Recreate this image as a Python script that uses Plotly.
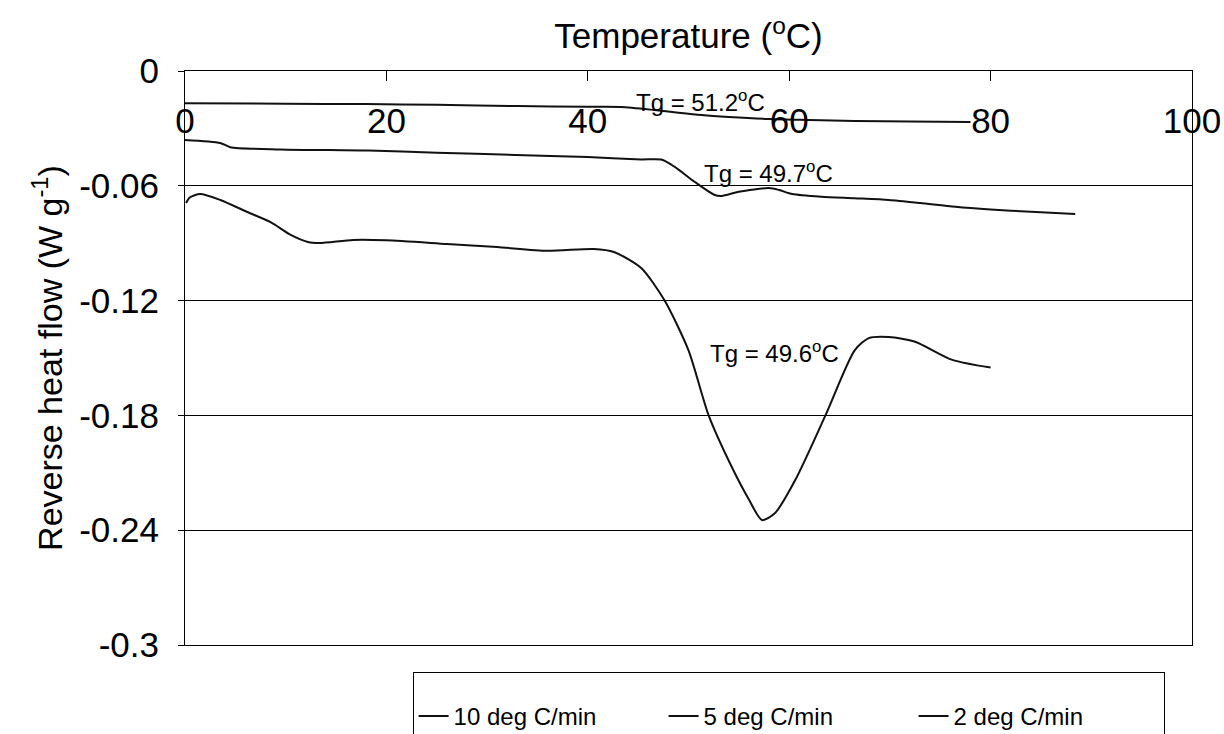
import plotly.graph_objects as go

# ---- data ----
T_10 = [0.1, 0.5, 1.5, 3.5, 6.2, 8.5, 10.5, 12.2, 13.4, 16.7, 20, 26, 31, 36, 40.6, 42.6,
        45.3, 47.6, 50, 52, 54.3, 56, 57.3, 58.6, 60.6, 63.6, 66.5, 67.9, 69.9, 72.5, 76.2, 80]
HF_10 = [-0.069, -0.066, -0.0643, -0.0674, -0.0737, -0.079, -0.0857, -0.0894, -0.0899, -0.0883,
         -0.0885, -0.0904, -0.0920, -0.094, -0.093, -0.0946, -0.103, -0.1197, -0.146, -0.180,
         -0.207, -0.224, -0.2347, -0.231, -0.2138, -0.180, -0.146, -0.1396, -0.139, -0.1415,
         -0.151, -0.155]

T_5 = [0, 3.5, 4.5, 9.5, 18.2, 25, 32.8, 40, 45.3, 47.3, 48.6, 50.6, 52.6, 53.3, 55, 58, 59,
       60.3, 63.2, 66.5, 69.9, 73, 76.5, 80, 84, 88.4]
HF_5 = [-0.036, -0.0376, -0.0398, -0.041, -0.0416, -0.0427, -0.0439, -0.0450, -0.0462, -0.0463,
        -0.0500, -0.0579, -0.0648, -0.0653, -0.0631, -0.0612, -0.0622, -0.0643, -0.0657, -0.0665,
        -0.0674, -0.0690, -0.0710, -0.0724, -0.0736, -0.0748]

T_2 = [0, 10, 18, 25, 33, 40, 43.3, 46.6, 49, 51.3, 54, 58, 62, 66.5, 72, 78]
HF_2 = [-0.0169, -0.0171, -0.0173, -0.0177, -0.0183, -0.0187, -0.0188, -0.0204, -0.0218,
        -0.0230, -0.0240, -0.0251, -0.0256, -0.0261, -0.0264, -0.0267]

SERIES = ["10 deg C/min", "5 deg C/min", "2 deg C/min"]

X_TICKS = [0, 20, 40, 60, 80, 100]
X_LABELS = ["0", "20", "40", "60", "80", "100"]
Y_TICKS = [0, -0.06, -0.12, -0.18, -0.24, -0.3]
Y_LABELS = ["0", "-0.06", "-0.12", "-0.18", "-0.24", "-0.3"]

TG_LABELS = ["Tg = 51.2<sup>o</sup>C", "Tg = 49.7<sup>o</sup>C", "Tg = 49.6<sup>o</sup>C"]
TG_X = [51.2, 57.9, 58.5]
TG_Y = [-0.0157, -0.0528, -0.147]

FONT = "Liberation Sans, Arial, sans-serif"

fig = go.Figure()
for name, xs, ys in zip(SERIES, [T_10, T_5, T_2], [HF_10, HF_5, HF_2]):
    fig.add_trace(go.Scatter(x=xs, y=ys, mode="lines", name=name,
                             line=dict(color="#111111", width=2, shape="spline", smoothing=0.7)))

# empty trace so the inner tick-label axis is drawn
fig.add_trace(go.Scatter(x=[], y=[], xaxis="x2", yaxis="y", showlegend=False, hoverinfo="skip"))

for txt, x, y in zip(TG_LABELS, TG_X, TG_Y):
    fig.add_annotation(x=x, y=y, text=txt, showarrow=False,
                       font=dict(family=FONT, size=24, color="black"))

fig.update_layout(
    width=1224, height=734,
    paper_bgcolor="white", plot_bgcolor="white",
    margin=dict(l=185, r=32, t=71, b=89, autoexpand=False),
    font=dict(family=FONT, color="black"),
    showlegend=True,
    legend=dict(orientation="h", x=0.226, xanchor="left", y=-0.047, yanchor="top",
                bordercolor="black", borderwidth=1, bgcolor="white",
                font=dict(size=24, family=FONT), entrywidth=205,
                title=dict(text=" ", side="top", font=dict(size=16))),
    xaxis=dict(range=[0, 100], side="top", showline=True, linecolor="black", linewidth=1,
               mirror=True, ticks="inside", ticklen=10, tickcolor="black",
               tickvals=X_TICKS, showticklabels=False, showgrid=False, zeroline=False,
               title=dict(text="Temperature (<sup>o</sup>C)", font=dict(size=35), standoff=10)),
    xaxis2=dict(range=[0, 100], overlaying="x", anchor="free", position=0.955, side="bottom",
                showline=False, ticks="", tickvals=X_TICKS, ticktext=X_LABELS,
                tickfont=dict(size=35), showgrid=False, zeroline=False),
    yaxis=dict(range=[-0.3, 0], showline=True, linecolor="black", linewidth=1, mirror=True,
               ticks="outside", ticklen=6, tickcolor="black", tickvals=Y_TICKS, ticktext=Y_LABELS,
               tickfont=dict(size=35), ticklabelstandoff=12,
               showgrid=True, gridcolor="black", gridwidth=1, zeroline=False,
               title=dict(text="Reverse heat flow (W g<sup>-1</sup>)", font=dict(size=34), standoff=6)),
)

fig.write_html("out.html")
